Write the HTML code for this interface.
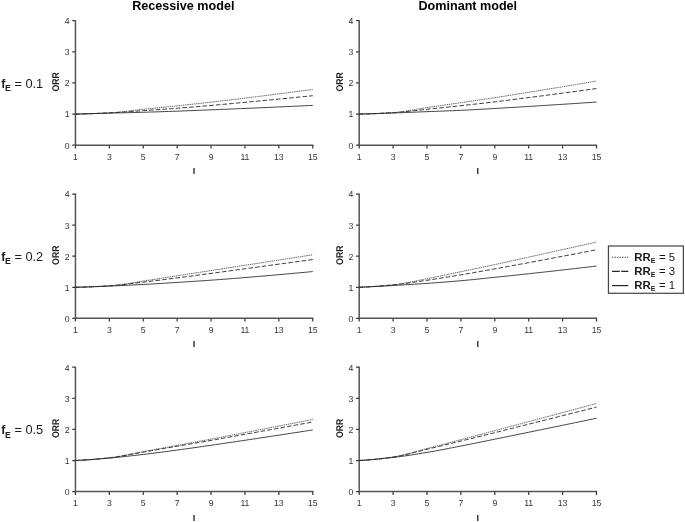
<!DOCTYPE html>
<html><head><meta charset="utf-8"><title>Figure</title>
<style>html,body{margin:0;padding:0;background:#fff}svg{display:block}</style></head>
<body>
<svg width="685" height="522" viewBox="0 0 685 522" font-family="Liberation Sans, sans-serif">
<rect width="685" height="522" fill="#fff"/>
<text x="183.3" y="10" font-size="12.6" font-weight="bold" text-anchor="middle" fill="#000">Recessive model</text>
<text x="467.8" y="10" font-size="12.6" font-weight="bold" text-anchor="middle" fill="#000">Dominant model</text>
<text x="1.2" y="87.7" font-size="12.8" fill="#1a1a1a"><tspan font-weight="bold" font-size="12.2">f</tspan><tspan font-weight="bold" font-size="8.8" x="5" dy="3.4">E</tspan><tspan x="14.4" dy="-3.4">= 0.1</tspan></text>
<path d="M75.45 20.2V145.79999999999998M74.85000000000001 145.2H313.35" stroke="#555" stroke-width="1.5" fill="none"/>
<path d="M72.25 145.20H75.45M72.25 114.07H75.45M72.25 82.95H75.45M72.25 51.83H75.45M72.25 20.70H75.45M75.45 145.2V148.5M109.35 145.2V148.5M143.25 145.2V148.5M177.15 145.2V148.5M211.05 145.2V148.5M244.95 145.2V148.5M278.85 145.2V148.5M312.75 145.2V148.5" stroke="#3c3c3c" stroke-width="1.25" fill="none"/>
<text x="69.5" y="148.5" font-size="8.7" text-anchor="end" fill="#333" text-rendering="geometricPrecision">0</text>
<text x="69.5" y="117.4" font-size="8.7" text-anchor="end" fill="#333" text-rendering="geometricPrecision">1</text>
<text x="69.5" y="86.2" font-size="8.7" text-anchor="end" fill="#333" text-rendering="geometricPrecision">2</text>
<text x="69.5" y="55.1" font-size="8.7" text-anchor="end" fill="#333" text-rendering="geometricPrecision">3</text>
<text x="69.5" y="24.0" font-size="8.7" text-anchor="end" fill="#333" text-rendering="geometricPrecision">4</text>
<text x="75.5" y="159.8" font-size="8.7" text-anchor="middle" fill="#333" text-rendering="geometricPrecision">1</text>
<text x="109.3" y="159.8" font-size="8.7" text-anchor="middle" fill="#333" text-rendering="geometricPrecision">3</text>
<text x="143.2" y="159.8" font-size="8.7" text-anchor="middle" fill="#333" text-rendering="geometricPrecision">5</text>
<text x="177.1" y="159.8" font-size="8.7" text-anchor="middle" fill="#333" text-rendering="geometricPrecision">7</text>
<text x="211.1" y="159.8" font-size="8.7" text-anchor="middle" fill="#333" text-rendering="geometricPrecision">9</text>
<text x="244.9" y="159.8" font-size="8.7" text-anchor="middle" fill="#333" text-rendering="geometricPrecision">11</text>
<text x="278.8" y="159.8" font-size="8.7" text-anchor="middle" fill="#333" text-rendering="geometricPrecision">13</text>
<text x="312.8" y="159.8" font-size="8.7" text-anchor="middle" fill="#333" text-rendering="geometricPrecision">15</text>
<text text-rendering="geometricPrecision" transform="translate(58.8 81.9) rotate(-90)" font-size="9.8" font-weight="bold" text-anchor="middle" textLength="19.4" lengthAdjust="spacingAndGlyphs" fill="#1a1a1a">ORR</text>
<text x="194.1" y="174.2" font-size="9" font-weight="bold" text-anchor="middle" fill="#1a1a1a">I</text>
<polyline points="75.45 114.07 79.69 114.04 83.92 113.95 88.16 113.83 92.40 113.67 96.64 113.48 100.88 113.28 105.11 113.06 109.35 112.83 113.59 112.55 117.83 112.19 122.06 111.76 126.30 111.28 130.54 110.78 134.78 110.27 139.01 109.77 143.25 109.31 147.49 108.88 151.72 108.44 155.96 108.01 160.20 107.58 164.44 107.15 168.68 106.71 172.91 106.27 177.15 105.83 181.39 105.38 185.62 104.93 189.86 104.48 194.10 104.02 198.34 103.56 202.57 103.10 206.81 102.63 211.05 102.15 215.29 101.67 219.52 101.18 223.76 100.69 228.00 100.19 232.24 99.68 236.48 99.17 240.71 98.66 244.95 98.14 249.19 97.62 253.43 97.09 257.66 96.55 261.90 96.01 266.14 95.47 270.38 94.93 274.61 94.39 278.85 93.84 283.09 93.30 287.32 92.76 291.56 92.22 295.80 91.67 300.04 91.13 304.27 90.58 308.51 90.03 312.75 89.49" fill="none" stroke-dasharray="1.5 0.7" stroke="#444" stroke-width="0.8"/>
<polyline points="75.45 114.07 79.69 113.98 83.92 113.87 88.16 113.74 92.40 113.60 96.64 113.44 100.88 113.26 105.11 113.08 109.35 112.89 113.59 112.68 117.83 112.43 122.06 112.16 126.30 111.87 130.54 111.57 134.78 111.26 139.01 110.95 143.25 110.65 147.49 110.36 151.72 110.07 155.96 109.77 160.20 109.47 164.44 109.17 168.68 108.86 172.91 108.54 177.15 108.22 181.39 107.90 185.62 107.56 189.86 107.23 194.10 106.88 198.34 106.53 202.57 106.18 206.81 105.82 211.05 105.45 215.29 105.08 219.52 104.70 223.76 104.32 228.00 103.93 232.24 103.54 236.48 103.14 240.71 102.74 244.95 102.34 249.19 101.94 253.43 101.54 257.66 101.13 261.90 100.72 266.14 100.31 270.38 99.90 274.61 99.49 278.85 99.07 283.09 98.66 287.32 98.24 291.56 97.82 295.80 97.40 300.04 96.98 304.27 96.56 308.51 96.14 312.75 95.71" fill="none" stroke-dasharray="4.6 2.1" stroke="#262626" stroke-width="0.9"/>
<polyline points="75.45 114.07 79.69 113.95 83.92 113.84 88.16 113.72 92.40 113.60 96.64 113.48 100.88 113.37 105.11 113.25 109.35 113.14 113.59 113.03 117.83 112.92 122.06 112.82 126.30 112.72 130.54 112.61 134.78 112.50 139.01 112.39 143.25 112.27 147.49 112.14 151.72 112.01 155.96 111.88 160.20 111.74 164.44 111.59 168.68 111.45 172.91 111.30 177.15 111.15 181.39 111.00 185.62 110.84 189.86 110.68 194.10 110.51 198.34 110.35 202.57 110.18 206.81 110.01 211.05 109.84 215.29 109.67 219.52 109.50 223.76 109.33 228.00 109.15 232.24 108.98 236.48 108.80 240.71 108.62 244.95 108.44 249.19 108.26 253.43 108.08 257.66 107.89 261.90 107.71 266.14 107.52 270.38 107.33 274.61 107.14 278.85 106.95 283.09 106.75 287.32 106.56 291.56 106.36 295.80 106.17 300.04 105.97 304.27 105.77 308.51 105.56 312.75 105.36" fill="none" stroke="#262626" stroke-width="0.85"/>
<path d="M359.2 20.2V145.79999999999998M358.59999999999997 145.2H597.1" stroke="#555" stroke-width="1.5" fill="none"/>
<path d="M356.0 145.20H359.2M356.0 114.07H359.2M356.0 82.95H359.2M356.0 51.83H359.2M356.0 20.70H359.2M359.20 145.2V148.5M393.10 145.2V148.5M427.00 145.2V148.5M460.90 145.2V148.5M494.80 145.2V148.5M528.70 145.2V148.5M562.60 145.2V148.5M596.50 145.2V148.5" stroke="#3c3c3c" stroke-width="1.25" fill="none"/>
<text x="353.3" y="148.5" font-size="8.7" text-anchor="end" fill="#333" text-rendering="geometricPrecision">0</text>
<text x="353.3" y="117.4" font-size="8.7" text-anchor="end" fill="#333" text-rendering="geometricPrecision">1</text>
<text x="353.3" y="86.2" font-size="8.7" text-anchor="end" fill="#333" text-rendering="geometricPrecision">2</text>
<text x="353.3" y="55.1" font-size="8.7" text-anchor="end" fill="#333" text-rendering="geometricPrecision">3</text>
<text x="353.3" y="24.0" font-size="8.7" text-anchor="end" fill="#333" text-rendering="geometricPrecision">4</text>
<text x="359.2" y="159.8" font-size="8.7" text-anchor="middle" fill="#333" text-rendering="geometricPrecision">1</text>
<text x="393.1" y="159.8" font-size="8.7" text-anchor="middle" fill="#333" text-rendering="geometricPrecision">3</text>
<text x="427.0" y="159.8" font-size="8.7" text-anchor="middle" fill="#333" text-rendering="geometricPrecision">5</text>
<text x="460.9" y="159.8" font-size="8.7" text-anchor="middle" fill="#333" text-rendering="geometricPrecision">7</text>
<text x="494.8" y="159.8" font-size="8.7" text-anchor="middle" fill="#333" text-rendering="geometricPrecision">9</text>
<text x="528.7" y="159.8" font-size="8.7" text-anchor="middle" fill="#333" text-rendering="geometricPrecision">11</text>
<text x="562.6" y="159.8" font-size="8.7" text-anchor="middle" fill="#333" text-rendering="geometricPrecision">13</text>
<text x="596.5" y="159.8" font-size="8.7" text-anchor="middle" fill="#333" text-rendering="geometricPrecision">15</text>
<text text-rendering="geometricPrecision" transform="translate(342.5 81.9) rotate(-90)" font-size="9.8" font-weight="bold" text-anchor="middle" textLength="19.4" lengthAdjust="spacingAndGlyphs" fill="#1a1a1a">ORR</text>
<text x="477.8" y="174.2" font-size="9" font-weight="bold" text-anchor="middle" fill="#1a1a1a">I</text>
<polyline points="359.20 114.07 363.44 114.04 367.68 113.95 371.91 113.81 376.15 113.63 380.39 113.41 384.62 113.16 388.86 112.89 393.10 112.61 397.34 112.25 401.57 111.74 405.81 111.13 410.05 110.44 414.29 109.71 418.52 108.98 422.76 108.26 427.00 107.60 431.24 106.98 435.47 106.37 439.71 105.75 443.95 105.14 448.19 104.53 452.42 103.92 456.66 103.30 460.90 102.68 465.14 102.06 469.38 101.45 473.61 100.83 477.85 100.21 482.09 99.58 486.32 98.95 490.56 98.32 494.80 97.67 499.04 97.02 503.27 96.36 507.51 95.69 511.75 95.01 515.99 94.33 520.23 93.65 524.46 92.97 528.70 92.29 532.94 91.60 537.17 90.92 541.41 90.23 545.65 89.53 549.89 88.84 554.12 88.14 558.36 87.45 562.60 86.75 566.84 86.05 571.08 85.34 575.31 84.64 579.55 83.93 583.79 83.22 588.02 82.51 592.26 81.80 596.50 81.08" fill="none" stroke-dasharray="1.5 0.7" stroke="#444" stroke-width="0.8"/>
<polyline points="359.20 114.07 363.44 113.99 367.68 113.88 371.91 113.73 376.15 113.55 380.39 113.35 384.62 113.13 388.86 112.89 393.10 112.64 397.34 112.36 401.57 112.00 405.81 111.60 410.05 111.16 414.29 110.70 418.52 110.23 422.76 109.76 427.00 109.31 431.24 108.87 435.47 108.43 439.71 107.98 443.95 107.52 448.19 107.06 452.42 106.60 456.66 106.14 460.90 105.67 465.14 105.20 469.38 104.74 473.61 104.27 477.85 103.79 482.09 103.32 486.32 102.83 490.56 102.34 494.80 101.84 499.04 101.33 503.27 100.81 507.51 100.29 511.75 99.75 515.99 99.21 520.23 98.67 524.46 98.12 528.70 97.58 532.94 97.03 537.17 96.48 541.41 95.93 545.65 95.37 549.89 94.81 554.12 94.25 558.36 93.69 562.60 93.13 566.84 92.56 571.08 92.00 575.31 91.43 579.55 90.86 583.79 90.28 588.02 89.71 592.26 89.13 596.50 88.55" fill="none" stroke-dasharray="4.6 2.1" stroke="#262626" stroke-width="0.9"/>
<polyline points="359.20 114.07 363.44 113.95 367.68 113.83 371.91 113.69 376.15 113.56 380.39 113.42 384.62 113.28 388.86 113.13 393.10 112.99 397.34 112.83 401.57 112.67 405.81 112.50 410.05 112.33 414.29 112.16 418.52 111.99 422.76 111.81 427.00 111.65 431.24 111.49 435.47 111.33 439.71 111.18 443.95 111.02 448.19 110.86 452.42 110.70 456.66 110.53 460.90 110.34 465.14 110.14 469.38 109.92 473.61 109.69 477.85 109.46 482.09 109.21 486.32 108.97 490.56 108.72 494.80 108.47 499.04 108.23 503.27 107.98 507.51 107.73 511.75 107.48 515.99 107.22 520.23 106.97 524.46 106.71 528.70 106.45 532.94 106.19 537.17 105.92 541.41 105.66 545.65 105.39 549.89 105.12 554.12 104.85 558.36 104.58 562.60 104.30 566.84 104.03 571.08 103.75 575.31 103.47 579.55 103.19 583.79 102.91 588.02 102.63 592.26 102.35 596.50 102.06" fill="none" stroke="#262626" stroke-width="0.85"/>
<text x="1.2" y="261.0" font-size="12.8" fill="#1a1a1a"><tspan font-weight="bold" font-size="12.2">f</tspan><tspan font-weight="bold" font-size="8.8" x="5" dy="3.4">E</tspan><tspan x="14.4" dy="-3.4">= 0.2</tspan></text>
<path d="M75.45 193.6V318.90000000000003M74.85000000000001 318.3H313.35" stroke="#555" stroke-width="1.5" fill="none"/>
<path d="M72.25 318.30H75.45M72.25 287.25H75.45M72.25 256.20H75.45M72.25 225.15H75.45M72.25 194.10H75.45M75.45 318.3V321.6M109.35 318.3V321.6M143.25 318.3V321.6M177.15 318.3V321.6M211.05 318.3V321.6M244.95 318.3V321.6M278.85 318.3V321.6M312.75 318.3V321.6" stroke="#3c3c3c" stroke-width="1.25" fill="none"/>
<text x="69.5" y="321.6" font-size="8.7" text-anchor="end" fill="#333" text-rendering="geometricPrecision">0</text>
<text x="69.5" y="290.6" font-size="8.7" text-anchor="end" fill="#333" text-rendering="geometricPrecision">1</text>
<text x="69.5" y="259.5" font-size="8.7" text-anchor="end" fill="#333" text-rendering="geometricPrecision">2</text>
<text x="69.5" y="228.5" font-size="8.7" text-anchor="end" fill="#333" text-rendering="geometricPrecision">3</text>
<text x="69.5" y="197.4" font-size="8.7" text-anchor="end" fill="#333" text-rendering="geometricPrecision">4</text>
<text x="75.5" y="332.9" font-size="8.7" text-anchor="middle" fill="#333" text-rendering="geometricPrecision">1</text>
<text x="109.3" y="332.9" font-size="8.7" text-anchor="middle" fill="#333" text-rendering="geometricPrecision">3</text>
<text x="143.2" y="332.9" font-size="8.7" text-anchor="middle" fill="#333" text-rendering="geometricPrecision">5</text>
<text x="177.1" y="332.9" font-size="8.7" text-anchor="middle" fill="#333" text-rendering="geometricPrecision">7</text>
<text x="211.1" y="332.9" font-size="8.7" text-anchor="middle" fill="#333" text-rendering="geometricPrecision">9</text>
<text x="244.9" y="332.9" font-size="8.7" text-anchor="middle" fill="#333" text-rendering="geometricPrecision">11</text>
<text x="278.8" y="332.9" font-size="8.7" text-anchor="middle" fill="#333" text-rendering="geometricPrecision">13</text>
<text x="312.8" y="332.9" font-size="8.7" text-anchor="middle" fill="#333" text-rendering="geometricPrecision">15</text>
<text text-rendering="geometricPrecision" transform="translate(58.8 255.2) rotate(-90)" font-size="9.8" font-weight="bold" text-anchor="middle" textLength="19.4" lengthAdjust="spacingAndGlyphs" fill="#1a1a1a">ORR</text>
<text x="194.1" y="347.3" font-size="9" font-weight="bold" text-anchor="middle" fill="#1a1a1a">I</text>
<polyline points="75.45 287.25 79.69 287.22 83.92 287.13 88.16 286.99 92.40 286.81 96.64 286.60 100.88 286.35 105.11 286.09 109.35 285.82 113.59 285.47 117.83 285.00 122.06 284.43 126.30 283.78 130.54 283.09 134.78 282.39 139.01 281.69 143.25 281.04 147.49 280.41 151.72 279.76 155.96 279.11 160.20 278.45 164.44 277.78 168.68 277.12 172.91 276.45 177.15 275.79 181.39 275.14 185.62 274.48 189.86 273.82 194.10 273.17 198.34 272.51 202.57 271.86 206.81 271.20 211.05 270.55 215.29 269.89 219.52 269.23 223.76 268.58 228.00 267.92 232.24 267.27 236.48 266.61 240.71 265.95 244.95 265.30 249.19 264.64 253.43 263.99 257.66 263.33 261.90 262.67 266.14 262.02 270.38 261.36 274.61 260.71 278.85 260.05 283.09 259.39 287.32 258.74 291.56 258.08 295.80 257.43 300.04 256.77 304.27 256.11 308.51 255.46 312.75 254.80" fill="none" stroke-dasharray="1.5 0.7" stroke="#444" stroke-width="0.8"/>
<polyline points="75.45 287.25 79.69 287.20 83.92 287.09 88.16 286.95 92.40 286.78 96.64 286.57 100.88 286.35 105.11 286.10 109.35 285.85 113.59 285.55 117.83 285.17 122.06 284.73 126.30 284.23 130.54 283.71 134.78 283.17 139.01 282.64 143.25 282.13 147.49 281.62 151.72 281.11 155.96 280.58 160.20 280.05 164.44 279.51 168.68 278.96 172.91 278.42 177.15 277.87 181.39 277.33 185.62 276.77 189.86 276.22 194.10 275.66 198.34 275.10 202.57 274.54 206.81 273.97 211.05 273.40 215.29 272.83 219.52 272.26 223.76 271.68 228.00 271.10 232.24 270.52 236.48 269.94 240.71 269.35 244.95 268.78 249.19 268.20 253.43 267.62 257.66 267.04 261.90 266.46 266.14 265.88 270.38 265.31 274.61 264.73 278.85 264.15 283.09 263.57 287.32 262.99 291.56 262.41 295.80 261.84 300.04 261.26 304.27 260.68 308.51 260.10 312.75 259.52" fill="none" stroke-dasharray="4.6 2.1" stroke="#262626" stroke-width="0.9"/>
<polyline points="75.45 287.25 79.69 287.13 83.92 286.99 88.16 286.86 92.40 286.71 96.64 286.56 100.88 286.40 105.11 286.24 109.35 286.07 113.59 285.89 117.83 285.71 122.06 285.52 126.30 285.32 130.54 285.11 134.78 284.90 139.01 284.68 143.25 284.46 147.49 284.23 151.72 283.99 155.96 283.74 160.20 283.49 164.44 283.23 168.68 282.97 172.91 282.70 177.15 282.44 181.39 282.17 185.62 281.90 189.86 281.62 194.10 281.34 198.34 281.06 202.57 280.77 206.81 280.47 211.05 280.17 215.29 279.86 219.52 279.55 223.76 279.23 228.00 278.91 232.24 278.58 236.48 278.24 240.71 277.90 244.95 277.56 249.19 277.22 253.43 276.87 257.66 276.51 261.90 276.15 266.14 275.79 270.38 275.42 274.61 275.05 278.85 274.67 283.09 274.30 287.32 273.92 291.56 273.54 295.80 273.15 300.04 272.76 304.27 272.37 308.51 271.97 312.75 271.57" fill="none" stroke="#262626" stroke-width="0.85"/>
<path d="M359.2 193.6V318.90000000000003M358.59999999999997 318.3H597.1" stroke="#555" stroke-width="1.5" fill="none"/>
<path d="M356.0 318.30H359.2M356.0 287.25H359.2M356.0 256.20H359.2M356.0 225.15H359.2M356.0 194.10H359.2M359.20 318.3V321.6M393.10 318.3V321.6M427.00 318.3V321.6M460.90 318.3V321.6M494.80 318.3V321.6M528.70 318.3V321.6M562.60 318.3V321.6M596.50 318.3V321.6" stroke="#3c3c3c" stroke-width="1.25" fill="none"/>
<text x="353.3" y="321.6" font-size="8.7" text-anchor="end" fill="#333" text-rendering="geometricPrecision">0</text>
<text x="353.3" y="290.6" font-size="8.7" text-anchor="end" fill="#333" text-rendering="geometricPrecision">1</text>
<text x="353.3" y="259.5" font-size="8.7" text-anchor="end" fill="#333" text-rendering="geometricPrecision">2</text>
<text x="353.3" y="228.5" font-size="8.7" text-anchor="end" fill="#333" text-rendering="geometricPrecision">3</text>
<text x="353.3" y="197.4" font-size="8.7" text-anchor="end" fill="#333" text-rendering="geometricPrecision">4</text>
<text x="359.2" y="332.9" font-size="8.7" text-anchor="middle" fill="#333" text-rendering="geometricPrecision">1</text>
<text x="393.1" y="332.9" font-size="8.7" text-anchor="middle" fill="#333" text-rendering="geometricPrecision">3</text>
<text x="427.0" y="332.9" font-size="8.7" text-anchor="middle" fill="#333" text-rendering="geometricPrecision">5</text>
<text x="460.9" y="332.9" font-size="8.7" text-anchor="middle" fill="#333" text-rendering="geometricPrecision">7</text>
<text x="494.8" y="332.9" font-size="8.7" text-anchor="middle" fill="#333" text-rendering="geometricPrecision">9</text>
<text x="528.7" y="332.9" font-size="8.7" text-anchor="middle" fill="#333" text-rendering="geometricPrecision">11</text>
<text x="562.6" y="332.9" font-size="8.7" text-anchor="middle" fill="#333" text-rendering="geometricPrecision">13</text>
<text x="596.5" y="332.9" font-size="8.7" text-anchor="middle" fill="#333" text-rendering="geometricPrecision">15</text>
<text text-rendering="geometricPrecision" transform="translate(342.5 255.2) rotate(-90)" font-size="9.8" font-weight="bold" text-anchor="middle" textLength="19.4" lengthAdjust="spacingAndGlyphs" fill="#1a1a1a">ORR</text>
<text x="477.8" y="347.3" font-size="9" font-weight="bold" text-anchor="middle" fill="#1a1a1a">I</text>
<polyline points="359.20 287.25 363.44 287.13 367.68 286.94 371.91 286.69 376.15 286.38 380.39 286.03 384.62 285.64 388.86 285.23 393.10 284.80 397.34 284.29 401.57 283.66 405.81 282.93 410.05 282.13 414.29 281.28 418.52 280.41 422.76 279.55 427.00 278.71 431.24 277.89 435.47 277.04 439.71 276.17 443.95 275.29 448.19 274.40 452.42 273.50 456.66 272.61 460.90 271.73 465.14 270.84 469.38 269.96 473.61 269.07 477.85 268.18 482.09 267.29 486.32 266.39 490.56 265.49 494.80 264.58 499.04 263.67 503.27 262.74 507.51 261.81 511.75 260.88 515.99 259.94 520.23 259.01 524.46 258.07 528.70 257.13 532.94 256.20 537.17 255.26 541.41 254.32 545.65 253.38 549.89 252.44 554.12 251.50 558.36 250.56 562.60 249.62 566.84 248.67 571.08 247.73 575.31 246.78 579.55 245.84 583.79 244.89 588.02 243.94 592.26 242.99 596.50 242.04" fill="none" stroke-dasharray="1.5 0.7" stroke="#444" stroke-width="0.8"/>
<polyline points="359.20 287.25 363.44 287.08 367.68 286.87 371.91 286.62 376.15 286.33 380.39 286.01 384.62 285.67 388.86 285.30 393.10 284.92 397.34 284.49 401.57 283.99 405.81 283.43 410.05 282.83 414.29 282.20 418.52 281.55 422.76 280.90 427.00 280.26 431.24 279.63 435.47 278.98 439.71 278.31 443.95 277.63 448.19 276.94 452.42 276.24 456.66 275.54 460.90 274.83 465.14 274.11 469.38 273.38 473.61 272.65 477.85 271.90 482.09 271.15 486.32 270.39 490.56 269.63 494.80 268.87 499.04 268.10 503.27 267.33 507.51 266.55 511.75 265.77 515.99 264.99 520.23 264.20 524.46 263.42 528.70 262.63 532.94 261.84 537.17 261.05 541.41 260.25 545.65 259.46 549.89 258.66 554.12 257.86 558.36 257.06 562.60 256.26 566.84 255.46 571.08 254.66 575.31 253.86 579.55 253.06 583.79 252.25 588.02 251.45 592.26 250.64 596.50 249.83" fill="none" stroke-dasharray="4.6 2.1" stroke="#262626" stroke-width="0.9"/>
<polyline points="359.20 287.25 363.44 287.06 367.68 286.87 371.91 286.66 376.15 286.45 380.39 286.23 384.62 286.01 388.86 285.78 393.10 285.54 397.34 285.30 401.57 285.05 405.81 284.78 410.05 284.51 414.29 284.24 418.52 283.95 422.76 283.66 427.00 283.37 431.24 283.07 435.47 282.76 439.71 282.45 443.95 282.12 448.19 281.79 452.42 281.45 456.66 281.10 460.90 280.73 465.14 280.35 469.38 279.94 473.61 279.52 477.85 279.09 482.09 278.64 486.32 278.20 490.56 277.75 494.80 277.31 499.04 276.88 503.27 276.44 507.51 275.99 511.75 275.55 515.99 275.10 520.23 274.65 524.46 274.20 528.70 273.74 532.94 273.28 537.17 272.82 541.41 272.36 545.65 271.89 549.89 271.42 554.12 270.94 558.36 270.47 562.60 269.99 566.84 269.50 571.08 269.02 575.31 268.53 579.55 268.04 583.79 267.54 588.02 267.05 592.26 266.55 596.50 266.04" fill="none" stroke="#262626" stroke-width="0.85"/>
<text x="1.2" y="434.2" font-size="12.8" fill="#1a1a1a"><tspan font-weight="bold" font-size="12.2">f</tspan><tspan font-weight="bold" font-size="8.8" x="5" dy="3.4">E</tspan><tspan x="14.4" dy="-3.4">= 0.5</tspan></text>
<path d="M75.45 366.7V492.20000000000005M74.85000000000001 491.6H313.35" stroke="#555" stroke-width="1.5" fill="none"/>
<path d="M72.25 491.60H75.45M72.25 460.50H75.45M72.25 429.40H75.45M72.25 398.30H75.45M72.25 367.20H75.45M75.45 491.6V494.90000000000003M109.35 491.6V494.90000000000003M143.25 491.6V494.90000000000003M177.15 491.6V494.90000000000003M211.05 491.6V494.90000000000003M244.95 491.6V494.90000000000003M278.85 491.6V494.90000000000003M312.75 491.6V494.90000000000003" stroke="#3c3c3c" stroke-width="1.25" fill="none"/>
<text x="69.5" y="494.9" font-size="8.7" text-anchor="end" fill="#333" text-rendering="geometricPrecision">0</text>
<text x="69.5" y="463.8" font-size="8.7" text-anchor="end" fill="#333" text-rendering="geometricPrecision">1</text>
<text x="69.5" y="432.7" font-size="8.7" text-anchor="end" fill="#333" text-rendering="geometricPrecision">2</text>
<text x="69.5" y="401.6" font-size="8.7" text-anchor="end" fill="#333" text-rendering="geometricPrecision">3</text>
<text x="69.5" y="370.5" font-size="8.7" text-anchor="end" fill="#333" text-rendering="geometricPrecision">4</text>
<text x="75.5" y="506.2" font-size="8.7" text-anchor="middle" fill="#333" text-rendering="geometricPrecision">1</text>
<text x="109.3" y="506.2" font-size="8.7" text-anchor="middle" fill="#333" text-rendering="geometricPrecision">3</text>
<text x="143.2" y="506.2" font-size="8.7" text-anchor="middle" fill="#333" text-rendering="geometricPrecision">5</text>
<text x="177.1" y="506.2" font-size="8.7" text-anchor="middle" fill="#333" text-rendering="geometricPrecision">7</text>
<text x="211.1" y="506.2" font-size="8.7" text-anchor="middle" fill="#333" text-rendering="geometricPrecision">9</text>
<text x="244.9" y="506.2" font-size="8.7" text-anchor="middle" fill="#333" text-rendering="geometricPrecision">11</text>
<text x="278.8" y="506.2" font-size="8.7" text-anchor="middle" fill="#333" text-rendering="geometricPrecision">13</text>
<text x="312.8" y="506.2" font-size="8.7" text-anchor="middle" fill="#333" text-rendering="geometricPrecision">15</text>
<text text-rendering="geometricPrecision" transform="translate(58.8 428.4) rotate(-90)" font-size="9.8" font-weight="bold" text-anchor="middle" textLength="19.4" lengthAdjust="spacingAndGlyphs" fill="#1a1a1a">ORR</text>
<text x="194.1" y="520.6" font-size="9" font-weight="bold" text-anchor="middle" fill="#1a1a1a">I</text>
<polyline points="75.45 460.50 79.69 460.34 83.92 460.12 88.16 459.83 92.40 459.50 96.64 459.12 100.88 458.70 105.11 458.26 109.35 457.79 113.59 457.25 117.83 456.59 122.06 455.83 126.30 455.00 130.54 454.14 134.78 453.27 139.01 452.41 143.25 451.61 147.49 450.83 151.72 450.05 155.96 449.28 160.20 448.50 164.44 447.73 168.68 446.95 172.91 446.17 177.15 445.39 181.39 444.60 185.62 443.82 189.86 443.03 194.10 442.25 198.34 441.46 202.57 440.67 206.81 439.87 211.05 439.07 215.29 438.27 219.52 437.46 223.76 436.65 228.00 435.84 232.24 435.02 236.48 434.20 240.71 433.39 244.95 432.57 249.19 431.76 253.43 430.94 257.66 430.13 261.90 429.31 266.14 428.49 270.38 427.67 274.61 426.86 278.85 426.04 283.09 425.22 287.32 424.41 291.56 423.59 295.80 422.78 300.04 421.96 304.27 421.14 308.51 420.33 312.75 419.51" fill="none" stroke-dasharray="1.5 0.7" stroke="#444" stroke-width="0.8"/>
<polyline points="75.45 460.50 79.69 460.32 83.92 460.09 88.16 459.81 92.40 459.47 96.64 459.10 100.88 458.70 105.11 458.27 109.35 457.83 113.59 457.31 117.83 456.69 122.06 455.99 126.30 455.24 130.54 454.44 134.78 453.64 139.01 452.86 143.25 452.10 147.49 451.37 151.72 450.64 155.96 449.90 160.20 449.15 164.44 448.41 168.68 447.67 172.91 446.93 177.15 446.19 181.39 445.46 185.62 444.74 189.86 444.02 194.10 443.30 198.34 442.58 202.57 441.85 206.81 441.12 211.05 440.38 215.29 439.63 219.52 438.88 223.76 438.11 228.00 437.35 232.24 436.58 236.48 435.82 240.71 435.05 244.95 434.28 249.19 433.52 253.43 432.75 257.66 431.99 261.90 431.22 266.14 430.46 270.38 429.69 274.61 428.92 278.85 428.16 283.09 427.39 287.32 426.62 291.56 425.85 295.80 425.08 300.04 424.31 304.27 423.54 308.51 422.77 312.75 422.00" fill="none" stroke-dasharray="4.6 2.1" stroke="#262626" stroke-width="0.9"/>
<polyline points="75.45 460.50 79.69 460.26 83.92 460.00 88.16 459.72 92.40 459.42 96.64 459.11 100.88 458.78 105.11 458.43 109.35 458.07 113.59 457.69 117.83 457.28 122.06 456.84 126.30 456.39 130.54 455.91 134.78 455.43 139.01 454.93 143.25 454.44 147.49 453.93 151.72 453.41 155.96 452.88 160.20 452.33 164.44 451.78 168.68 451.22 172.91 450.65 177.15 450.08 181.39 449.50 185.62 448.91 189.86 448.32 194.10 447.71 198.34 447.10 202.57 446.49 206.81 445.87 211.05 445.26 215.29 444.65 219.52 444.03 223.76 443.41 228.00 442.79 232.24 442.17 236.48 441.54 240.71 440.92 244.95 440.29 249.19 439.65 253.43 439.02 257.66 438.38 261.90 437.73 266.14 437.09 270.38 436.45 274.61 435.80 278.85 435.15 283.09 434.51 287.32 433.86 291.56 433.21 295.80 432.55 300.04 431.90 304.27 431.24 308.51 430.59 312.75 429.93" fill="none" stroke="#262626" stroke-width="0.85"/>
<path d="M359.2 366.7V492.20000000000005M358.59999999999997 491.6H597.1" stroke="#555" stroke-width="1.5" fill="none"/>
<path d="M356.0 491.60H359.2M356.0 460.50H359.2M356.0 429.40H359.2M356.0 398.30H359.2M356.0 367.20H359.2M359.20 491.6V494.90000000000003M393.10 491.6V494.90000000000003M427.00 491.6V494.90000000000003M460.90 491.6V494.90000000000003M494.80 491.6V494.90000000000003M528.70 491.6V494.90000000000003M562.60 491.6V494.90000000000003M596.50 491.6V494.90000000000003" stroke="#3c3c3c" stroke-width="1.25" fill="none"/>
<text x="353.3" y="494.9" font-size="8.7" text-anchor="end" fill="#333" text-rendering="geometricPrecision">0</text>
<text x="353.3" y="463.8" font-size="8.7" text-anchor="end" fill="#333" text-rendering="geometricPrecision">1</text>
<text x="353.3" y="432.7" font-size="8.7" text-anchor="end" fill="#333" text-rendering="geometricPrecision">2</text>
<text x="353.3" y="401.6" font-size="8.7" text-anchor="end" fill="#333" text-rendering="geometricPrecision">3</text>
<text x="353.3" y="370.5" font-size="8.7" text-anchor="end" fill="#333" text-rendering="geometricPrecision">4</text>
<text x="359.2" y="506.2" font-size="8.7" text-anchor="middle" fill="#333" text-rendering="geometricPrecision">1</text>
<text x="393.1" y="506.2" font-size="8.7" text-anchor="middle" fill="#333" text-rendering="geometricPrecision">3</text>
<text x="427.0" y="506.2" font-size="8.7" text-anchor="middle" fill="#333" text-rendering="geometricPrecision">5</text>
<text x="460.9" y="506.2" font-size="8.7" text-anchor="middle" fill="#333" text-rendering="geometricPrecision">7</text>
<text x="494.8" y="506.2" font-size="8.7" text-anchor="middle" fill="#333" text-rendering="geometricPrecision">9</text>
<text x="528.7" y="506.2" font-size="8.7" text-anchor="middle" fill="#333" text-rendering="geometricPrecision">11</text>
<text x="562.6" y="506.2" font-size="8.7" text-anchor="middle" fill="#333" text-rendering="geometricPrecision">13</text>
<text x="596.5" y="506.2" font-size="8.7" text-anchor="middle" fill="#333" text-rendering="geometricPrecision">15</text>
<text text-rendering="geometricPrecision" transform="translate(342.5 428.4) rotate(-90)" font-size="9.8" font-weight="bold" text-anchor="middle" textLength="19.4" lengthAdjust="spacingAndGlyphs" fill="#1a1a1a">ORR</text>
<text x="477.8" y="520.6" font-size="9" font-weight="bold" text-anchor="middle" fill="#1a1a1a">I</text>
<polyline points="359.20 460.50 363.44 460.32 367.68 460.04 371.91 459.67 376.15 459.23 380.39 458.73 384.62 458.18 388.86 457.60 393.10 456.99 397.34 456.27 401.57 455.37 405.81 454.34 410.05 453.22 414.29 452.03 418.52 450.83 422.76 449.65 427.00 448.53 431.24 447.44 435.47 446.34 439.71 445.24 443.95 444.13 448.19 443.02 452.42 441.90 456.66 440.78 460.90 439.66 465.14 438.54 469.38 437.42 473.61 436.29 477.85 435.16 482.09 434.03 486.32 432.90 490.56 431.77 494.80 430.64 499.04 429.52 503.27 428.39 507.51 427.26 511.75 426.13 515.99 425.01 520.23 423.88 524.46 422.75 528.70 421.62 532.94 420.50 537.17 419.37 541.41 418.25 545.65 417.12 549.89 415.99 554.12 414.87 558.36 413.74 562.60 412.61 566.84 411.47 571.08 410.34 575.31 409.20 579.55 408.06 583.79 406.92 588.02 405.78 592.26 404.64 596.50 403.49" fill="none" stroke-dasharray="1.5 0.7" stroke="#444" stroke-width="0.8"/>
<polyline points="359.20 460.50 363.44 460.30 367.68 460.01 371.91 459.65 376.15 459.23 380.39 458.75 384.62 458.22 388.86 457.66 393.10 457.08 397.34 456.40 401.57 455.57 405.81 454.63 410.05 453.60 414.29 452.52 418.52 451.42 422.76 450.34 427.00 449.30 431.24 448.30 435.47 447.28 439.71 446.26 443.95 445.22 448.19 444.19 452.42 443.14 456.66 442.10 460.90 441.06 465.14 440.02 469.38 438.98 473.61 437.93 477.85 436.88 482.09 435.83 486.32 434.77 490.56 433.72 494.80 432.67 499.04 431.61 503.27 430.55 507.51 429.49 511.75 428.43 515.99 427.37 520.23 426.30 524.46 425.24 528.70 424.18 532.94 423.11 537.17 422.05 541.41 420.98 545.65 419.92 549.89 418.85 554.12 417.79 558.36 416.72 562.60 415.65 566.84 414.59 571.08 413.52 575.31 412.45 579.55 411.38 583.79 410.31 588.02 409.24 592.26 408.17 596.50 407.10" fill="none" stroke-dasharray="4.6 2.1" stroke="#262626" stroke-width="0.9"/>
<polyline points="359.20 460.50 363.44 460.22 367.68 459.91 371.91 459.57 376.15 459.19 380.39 458.79 384.62 458.37 388.86 457.92 393.10 457.45 397.34 456.95 401.57 456.39 405.81 455.80 410.05 455.16 414.29 454.50 418.52 453.81 422.76 453.12 427.00 452.41 431.24 451.69 435.47 450.94 439.71 450.15 443.95 449.35 448.19 448.53 452.42 447.70 456.66 446.87 460.90 446.04 465.14 445.21 469.38 444.36 473.61 443.51 477.85 442.65 482.09 441.79 486.32 440.92 490.56 440.06 494.80 439.20 499.04 438.33 503.27 437.47 507.51 436.60 511.75 435.74 515.99 434.87 520.23 434.00 524.46 433.13 528.70 432.26 532.94 431.39 537.17 430.52 541.41 429.65 545.65 428.78 549.89 427.91 554.12 427.04 558.36 426.17 562.60 425.29 566.84 424.42 571.08 423.54 575.31 422.67 579.55 421.79 583.79 420.91 588.02 420.03 592.26 419.15 596.50 418.27" fill="none" stroke="#262626" stroke-width="0.85"/>
<rect x="608.45" y="246" width="74.95" height="47.3" fill="#fff" stroke="#4a4a4a" stroke-width="1.25"/>
<path d="M612 257.3H628.3" stroke-dasharray="1.25 1.28" stroke="#333" stroke-width="1.1" fill="none"/>
<text x="634.3" y="261.1" font-size="11.4" fill="#1a1a1a"><tspan font-weight="bold">RR</tspan><tspan font-weight="bold" font-size="6.9" dy="1.9">E</tspan><tspan dy="-1.9" dx="0.5"> = 5</tspan></text>
<path d="M612 271.3H628.3" stroke-dasharray="7.8 1.4" stroke="#262626" stroke-width="1.2" fill="none"/>
<text x="634.3" y="274.6" font-size="11.4" fill="#1a1a1a"><tspan font-weight="bold">RR</tspan><tspan font-weight="bold" font-size="6.9" dy="1.9">E</tspan><tspan dy="-1.9" dx="0.5"> = 3</tspan></text>
<path d="M612 285.6H628.3" stroke="#262626" stroke-width="1.2" fill="none"/>
<text x="634.3" y="289.4" font-size="11.4" fill="#1a1a1a"><tspan font-weight="bold">RR</tspan><tspan font-weight="bold" font-size="6.9" dy="1.9">E</tspan><tspan dy="-1.9" dx="0.5"> = 1</tspan></text>
</svg>
</body></html>
